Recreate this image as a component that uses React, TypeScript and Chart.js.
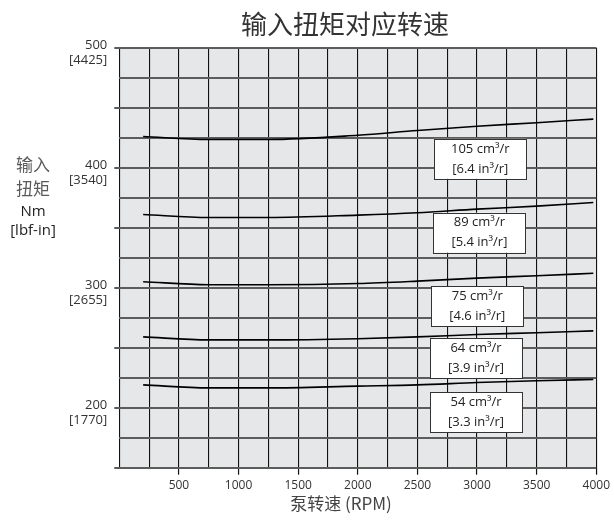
import React, { useEffect, useRef } from 'react';
import { Chart, registerables } from 'chart.js';

Chart.register(...registerables);

// ---- data ----
const TITLE = '输入扭矩对应转速';
const X_TITLE = '泵转速 (RPM)';
const Y_TITLE = ['输入', '扭矩', 'Nm', '[lbf-in]'];

const RPM = [200, 750, 1250, 2000, 2500, 3000, 3500, 3975];
const TORQUE_105 = [426, 423.5, 423.5, 427, 431, 434.5, 437.5, 440.5];
const TORQUE_89 = [361, 358.5, 358.5, 360.5, 362.5, 365.5, 368, 371];
const TORQUE_75 = [305, 302.5, 302.5, 303.5, 305.5, 308, 310, 312];
const TORQUE_64 = [259, 256.5, 256.5, 257.5, 259, 261, 262.5, 264];
const TORQUE_54 = [219, 216.5, 216.5, 218, 219, 221, 222.5, 223.5];

const SERIES_NAMES = ['105 cm³/r', '89 cm³/r', '75 cm³/r', '64 cm³/r', '54 cm³/r'];
const SERIES_IMPERIAL = ['[6.4 in³/r]', '[5.4 in³/r]', '[4.6 in³/r]', '[3.9 in³/r]', '[3.3 in³/r]'];
const LABEL_RPM = [3027, 3020, 3002, 2991, 2992];
const LABEL_NM = [407.4, 345.8, 284.6, 241.2, 196.2];

const Y_TICK_NM = [200, 300, 400, 500];
const Y_TICK_LBF = ['[1770]', '[2655]', '[3540]', '[4425]'];
const X_TICK_LABELS = [500, 1000, 1500, 2000, 2500, 3000, 3500, 4000];

const SERIES = [TORQUE_105, TORQUE_89, TORQUE_75, TORQUE_64, TORQUE_54];

const LATIN = '"Open Sans", "Noto Sans CJK SC", sans-serif';
const CJK = '"Noto Sans CJK SC", "Open Sans", sans-serif';

export default function App() {
  const ref = useRef<HTMLCanvasElement | null>(null);

  useEffect(() => {
    document.body.style.margin = '0';
    const canvas = ref.current;
    if (!canvas) return;

    const bgPlugin = {
      id: 'bg',
      beforeDraw(chart: any) {
        const { ctx, chartArea: a } = chart;
        ctx.save();
        ctx.fillStyle = '#ffffff';
        ctx.fillRect(0, 0, chart.width, chart.height);
        ctx.fillStyle = '#e6e7e9';
        ctx.fillRect(a.left, a.top, a.right - a.left, a.bottom - a.top);
        ctx.restore();
      },
    };

    const textPlugin = {
      id: 'texts',
      afterDraw(chart: any) {
        const { ctx } = chart;
        const xs = chart.scales.x;
        const ys = chart.scales.y;
        ctx.save();
        // title
        ctx.textAlign = 'center';
        ctx.textBaseline = 'middle';
        ctx.fillStyle = '#333333';
        ctx.font = `26px ${CJK}`;
        ctx.fillText(TITLE, 345, 24);
        // x title
        ctx.font = `17px ${CJK}`;
        ctx.fillStyle = '#444444';
        ctx.fillText(X_TITLE, 341, 504);
        // y title
        const yPos = [165, 189, 212, 231];
        Y_TITLE.forEach((t, i) => {
          if (i < 2) {
            ctx.font = `17px ${CJK}`;
            ctx.fillStyle = '#5a5a5a';
          } else {
            ctx.font = `15px ${LATIN}`;
            ctx.fillStyle = '#222222';
          }
          ctx.fillText(t, 33, yPos[i]);
        });
        // series label boxes
        const w = 92;
        const h = 40;
        SERIES_NAMES.forEach((name, i) => {
          const cx = xs.getPixelForValue(LABEL_RPM[i]);
          const cy = ys.getPixelForValue(LABEL_NM[i]);
          ctx.fillStyle = '#ffffff';
          ctx.fillRect(cx - w / 2, cy - h / 2, w, h);
          ctx.strokeStyle = '#333333';
          ctx.lineWidth = 1;
          ctx.strokeRect(Math.round(cx - w / 2) + 0.5, Math.round(cy - h / 2) + 0.5, w, h);
          ctx.fillStyle = '#222222';
          ctx.font = `13px ${LATIN}`;
          ctx.fillText(name, cx, cy - 10);
          ctx.fillText(SERIES_IMPERIAL[i], cx, cy + 10);
        });
        ctx.restore();
      },
    };

    const chart = new Chart(canvas, {
      type: 'line',
      data: {
        datasets: SERIES.map((vals, i) => ({
          label: SERIES_NAMES[i],
          data: RPM.map((r, j) => ({ x: r, y: vals[j] })),
          borderColor: '#000000',
          borderWidth: 1.6,
          pointRadius: 0,
          cubicInterpolationMode: 'monotone' as const,
          fill: false,
        })),
      },
      options: {
        animation: false,
        responsive: false,
        maintainAspectRatio: false,
        events: [],
        layout: { padding: { top: 47.7, right: 14.7, left: 0, bottom: 0 } },
        plugins: {
          legend: { display: false },
          title: { display: false },
          tooltip: { enabled: false },
        },
        scales: {
          x: {
            type: 'linear',
            min: 0,
            max: 4000,
            afterFit: (s: any) => {
              s.height = 55.3;
            },
            ticks: {
              stepSize: 250,
              autoSkip: false,
              maxRotation: 0,
              minRotation: 0,
              padding: 4,
              color: '#333333',
              font: { family: LATIN, size: 12 },
              callback: (v: any) => (X_TICK_LABELS.includes(Number(v)) ? String(v) : ''),
            },
            grid: {
              color: '#111111',
              lineWidth: 1.1,
              tickLength: 7,
              tickWidth: 1.2,
              tickColor: (c: any) =>
                c.tick && X_TICK_LABELS.includes(c.tick.value) ? '#111111' : 'rgba(0,0,0,0)',
            },
            border: { display: false },
          },
          y: {
            type: 'linear',
            min: 150,
            max: 500,
            afterFit: (s: any) => {
              s.width = 119.3;
            },
            ticks: {
              stepSize: 25,
              autoSkip: false,
              padding: 7,
              labelOffset: 5,
              color: '#333333',
              font: { family: LATIN, size: 13, lineHeight: 1.15 },
              callback: (v: any) => {
                const i = Y_TICK_NM.indexOf(Number(v));
                return i >= 0 ? [String(v), Y_TICK_LBF[i]] : '';
              },
            },
            grid: {
              color: '#5c5c5c',
              lineWidth: 2,
              tickLength: 5,
              tickWidth: 2,
              tickColor: (c: any) =>
                c.tick && c.tick.value % 50 === 0 ? '#5c5c5c' : 'rgba(0,0,0,0)',
            },
            border: { display: false },
          },
        },
      },
      plugins: [bgPlugin, textPlugin],
    } as any);

    return () => chart.destroy();
  }, []);

  return (
    <div style={{ width: 614, height: 523 }}>
      <canvas ref={ref} width={614} height={523} style={{ display: 'block' }} />
    </div>
  );
}
